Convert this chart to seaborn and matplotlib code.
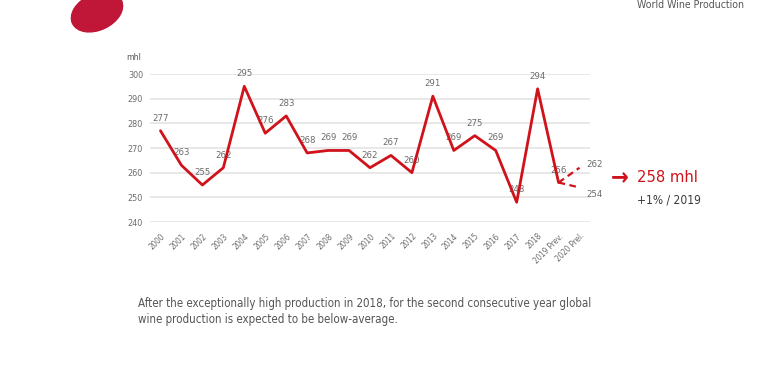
import matplotlib
matplotlib.use("Agg")
import matplotlib.pyplot as plt
from matplotlib.patches import Ellipse
import seaborn as sns
import pandas as pd

years = ["2000", "2001", "2002", "2003", "2004", "2005", "2006", "2007", "2008", "2009",
         "2010", "2011", "2012", "2013", "2014", "2015", "2016", "2017", "2018",
         "2019 Prev.", "2020 Prel."]
production = [277, 263, 255, 262, 295, 276, 283, 268, 269, 269,
              262, 267, 260, 291, 269, 275, 269, 248, 294, 256]
forecast_high = [256, 262]
forecast_low = [256, 254]
yticks = [240, 250, 260, 270, 280, 290, 300]

sns.set_theme(style="white")
plt.rcParams["font.family"] = ["DejaVu Sans"]
plt.rcParams["font.stretch"] = "condensed"

RED = "#d0121b"
GREY = "#6b6b6b"

fig = plt.figure(figsize=(7.8, 3.9), dpi=100)
ax = fig.add_axes([150/780, 1-222/390, 440/780, 148/390])

df = pd.DataFrame({"x": range(len(production)), "y": production})
sns.lineplot(data=df, x="x", y="y", ax=ax, color=RED, linewidth=2.0)
n = len(production) - 1
dfh = pd.DataFrame({"x": [n, n + 1], "y": forecast_high})
dfl = pd.DataFrame({"x": [n, n + 1], "y": forecast_low})
sns.lineplot(data=dfh, x="x", y="y", ax=ax, color=RED, linewidth=1.6, linestyle=(0, (3, 2)))
sns.lineplot(data=dfl, x="x", y="y", ax=ax, color=RED, linewidth=1.6, linestyle=(0, (3, 2)))

for i, v in enumerate(production):
    ax.annotate(str(v), (i, v), xytext=(0, 9), textcoords="offset points",
                ha="center", va="center", fontsize=6.8, color=GREY, zorder=1)
ax.annotate(str(forecast_high[1]), (n + 1, forecast_high[1]), xytext=(5, 2),
            textcoords="offset points", ha="left", va="center", fontsize=6.8, color=GREY,
            annotation_clip=False)
ax.annotate(str(forecast_low[1]), (n + 1, forecast_low[1]), xytext=(5, -5),
            textcoords="offset points", ha="left", va="center", fontsize=6.8, color=GREY,
            annotation_clip=False)

ax.set_xlim(-0.5, len(years) - 0.5)
ax.set_ylim(240, 300)
ax.set_yticks(yticks)
ax.set_yticklabels([str(t) for t in yticks], fontsize=6.5, color=GREY)
ax.set_xticks(range(len(years)))
ax.set_xticklabels(years, rotation=45, ha="right", rotation_mode="anchor", fontsize=5.8, color=GREY)
ax.tick_params(axis="y", length=0, pad=5)
ax.tick_params(axis="x", length=0, pad=7)
ax.set_xlabel("")
ax.set_ylabel("")
ax.grid(axis="y", color="#e4e4e4", linewidth=1.2)
ax.set_axisbelow(True)
for s in ax.spines.values():
    s.set_visible(False)

ov = fig.add_axes([0, 0, 1, 1], zorder=-1)
ov.set_xlim(0, 780)
ov.set_ylim(390, 0)
ov.axis("off")
ov.add_patch(Ellipse((97, 12), 54, 36, angle=-25, color="#c01638"))
ov.text(744, 5, "World Wine Production", ha="right", va="center", fontsize=7.6, color="#555555")
ov.text(134, 57, "mhl", ha="center", va="center", fontsize=6.3, color="#555555")
ov.text(611, 177, "\u2192", ha="left", va="center", fontsize=17, color=RED, fontweight="bold")
ov.text(637, 177, "258 mhl", ha="left", va="center", fontsize=11.8, color=RED)
ov.text(637, 200, "+1% / 2019", ha="left", va="center", fontsize=8.6, color="#3a3a3a")
ov.text(138, 304, "After the exceptionally high production in 2018, for the second consecutive year global",
        ha="left", va="center", fontsize=8.3, color="#555555")
ov.text(138, 320, "wine production is expected to be below-average.",
        ha="left", va="center", fontsize=8.3, color="#555555")

fig.savefig("out.png", dpi=100)
